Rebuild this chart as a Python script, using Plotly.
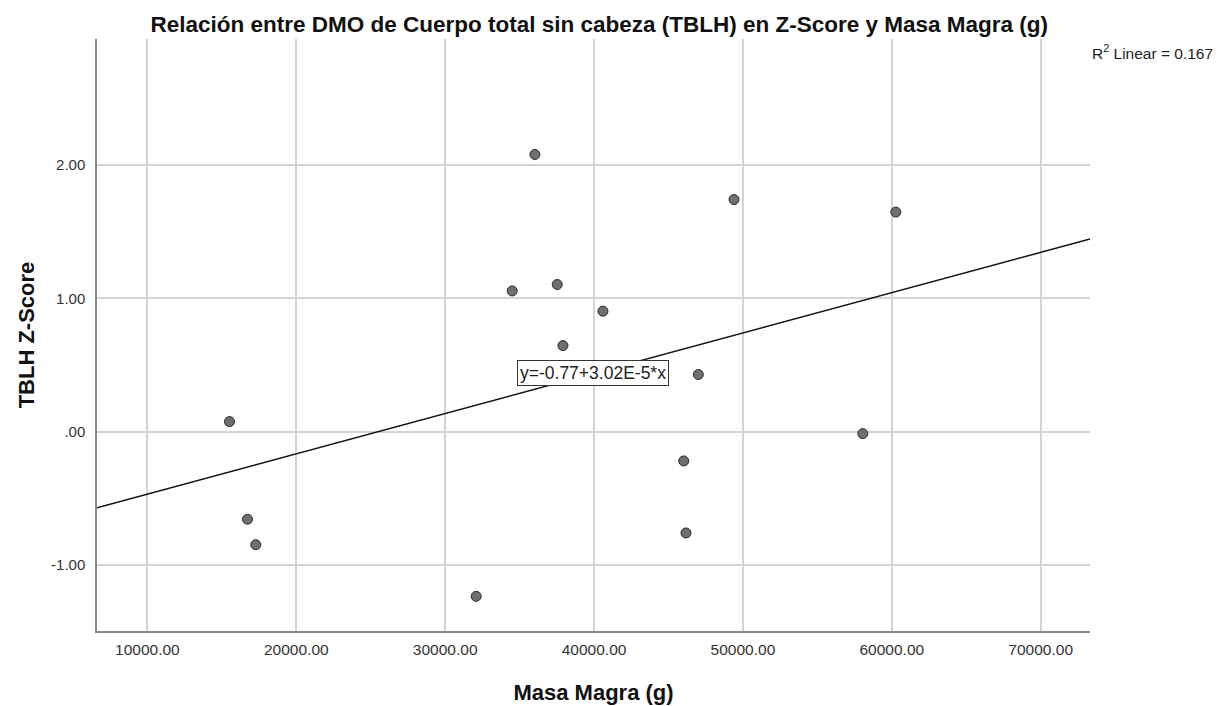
import plotly.graph_objects as go

# Data
masa_magra = [15511, 16720, 17278, 32083, 34503, 36028, 37527, 37910, 40598,
              46022, 46176, 47003, 49402, 58051, 60269]
tblh_z = [0.075, -0.657, -0.848, -1.235, 1.055, 2.078, 1.103, 0.645, 0.903,
          -0.220, -0.760, 0.428, 1.740, -0.015, 1.646]

# Fit line coefficients (as printed on chart)
intercept = -0.77
slope = 3.02e-5
r2_text = "R<sup>2</sup> Linear = 0.167"
eq_text = "y=-0.77+3.02E-5*x"

x_range = [6613, 73313]
y_range = [-1.495, 2.944]

x_ticks = [10000, 20000, 30000, 40000, 50000, 60000, 70000]
x_ticktext = ["10000.00", "20000.00", "30000.00", "40000.00", "50000.00", "60000.00", "70000.00"]
y_ticks = [-1, 0, 1, 2]
y_ticktext = ["-1.00", ".00", "1.00", "2.00"]

FONT = "Liberation Sans, Arial, sans-serif"

fig = go.Figure()

fit_x = x_range
fit_y = [intercept + slope * v for v in fit_x]
fig.add_trace(go.Scatter(x=fit_x, y=fit_y, mode="lines",
                         line=dict(color="#111111", width=1.5),
                         hoverinfo="skip", showlegend=False))

fig.add_trace(go.Scatter(x=masa_magra, y=tblh_z, mode="markers",
                         marker=dict(size=10, color="#6f6f6f",
                                     line=dict(color="#2a2a2a", width=1)),
                         showlegend=False))

fig.update_layout(
    width=1223, height=706,
    margin=dict(l=97, r=133, t=39, b=75),
    paper_bgcolor="white", plot_bgcolor="white",
    font=dict(family=FONT, size=15, color="#333333"),
    title=dict(text="<b>Relación entre DMO de Cuerpo total sin cabeza (TBLH) en Z-Score y Masa Magra (g)</b>",
               x=0.490, xanchor="center", y=0.966, yanchor="middle",
               font=dict(family=FONT, size=22.5, color="#111111")),
    xaxis=dict(range=x_range, tickvals=x_ticks, ticktext=x_ticktext, automargin=False,
               showgrid=True, gridcolor="#d4d4d4", gridwidth=1.5,
               zeroline=False, showline=True, linecolor="#8a8a8a", linewidth=1.5,
               ticks="", ticklabelstandoff=4, tickfont=dict(size=15.5, color="#333333"),
               title=dict(text="<b>Masa Magra (g)</b>", standoff=27,
                          font=dict(family=FONT, size=22, color="#111111"))),
    yaxis=dict(range=y_range, tickvals=y_ticks, ticktext=y_ticktext, automargin=False,
               showgrid=True, gridcolor="#d4d4d4", gridwidth=1.5,
               zeroline=False, showline=True, linecolor="#8a8a8a", linewidth=1.5,
               ticks="", ticklabelstandoff=7, tickfont=dict(size=15, color="#333333"),
               title=dict(text="<b>TBLH Z-Score</b>", standoff=10,
                          font=dict(family=FONT, size=22, color="#111111"))),
    annotations=[
        dict(text=r2_text, xref="paper", yref="paper", x=1.0, y=1.0,
             xanchor="left", yanchor="middle", xshift=0, yshift=-13,
             showarrow=False, font=dict(family=FONT, size=15.5, color="#222222")),
        dict(text=eq_text, xref="x", yref="y", x=39960, y=0.44,
             xanchor="center", yanchor="middle", showarrow=False,
             bgcolor="white", bordercolor="#333333", borderwidth=1, borderpad=2,
             font=dict(family=FONT, size=17.5, color="#222222")),
    ],
)

fig.write_html("out.html")
